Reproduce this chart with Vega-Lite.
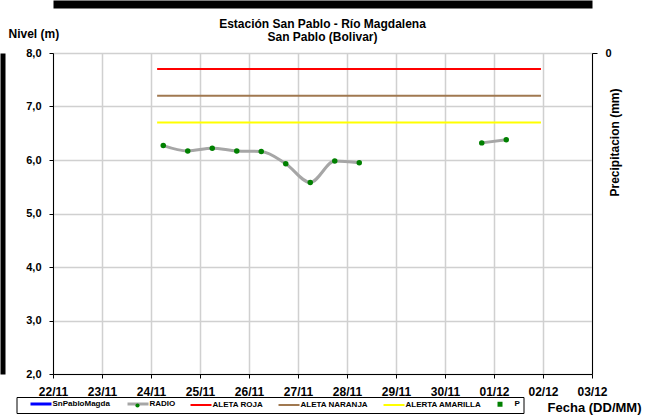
{
  "$schema": "https://vega.github.io/schema/vega-lite/v6.json",
  "width": 539,
  "height": 321,
  "autosize": "none",
  "padding": {"left": 53, "top": 53, "right": 54, "bottom": 44},
  "background": "white",
  "config": {"view": {"stroke": null}, "font": "Liberation Sans"},
  "title": {
    "text": ["Estación San Pablo - Río Magdalena", "San Pablo (Bolivar)"],
    "fontSize": 12, "fontWeight": "bold", "font": "Liberation Sans",
    "anchor": "middle", "offset": 12, "lineHeight": 13, "color": "black", "dy": 52
  },
  "datasets": {
    "radio": [
      {"t": "2023-11-24T06:00:00", "v": 6.27, "seg": "a"},
      {"t": "2023-11-24T18:00:00", "v": 6.17, "seg": "a"},
      {"t": "2023-11-25T06:00:00", "v": 6.22, "seg": "a"},
      {"t": "2023-11-25T18:00:00", "v": 6.17, "seg": "a"},
      {"t": "2023-11-26T06:00:00", "v": 6.16, "seg": "a"},
      {"t": "2023-11-26T18:00:00", "v": 5.93, "seg": "a"},
      {"t": "2023-11-27T06:00:00", "v": 5.58, "seg": "a"},
      {"t": "2023-11-27T18:00:00", "v": 5.98, "seg": "a"},
      {"t": "2023-11-28T06:00:00", "v": 5.95, "seg": "a"},
      {"t": "2023-11-30T18:00:00", "v": 6.32, "seg": "b"},
      {"t": "2023-12-01T06:00:00", "v": 6.38, "seg": "b"}
    ],
    "alertas": [
      {"serie": "ALETA ROJA", "t": "2023-11-24T03:00:00", "v": 7.7},
      {"serie": "ALETA ROJA", "t": "2023-12-01T23:00:00", "v": 7.7},
      {"serie": "ALETA NARANJA", "t": "2023-11-24T03:00:00", "v": 7.2},
      {"serie": "ALETA NARANJA", "t": "2023-12-01T23:00:00", "v": 7.2},
      {"serie": "ALERTA AMARILLA", "t": "2023-11-24T03:00:00", "v": 6.7},
      {"serie": "ALERTA AMARILLA", "t": "2023-12-01T23:00:00", "v": 6.7}
    ],
    "precip": [{"p": 0, "t": "2023-11-28T00:00:00"}]
  },
  "layer": [
    {
      "layer": [
        {
          "data": {"name": "alertas"},
          "mark": {"type": "line", "strokeWidth": 2},
          "encoding": {
            "x": {
              "field": "t", "type": "temporal",
              "scale": {"domain": [{"year": 2023, "month": 11, "date": 22}, {"year": 2023, "month": 12, "date": 3}]},
              "axis": {
                "format": "%d/%m", "tickCount": {"interval": "day", "step": 1},
                "labelFontSize": 12, "labelFontWeight": "bold", "labelColor": "black", "labelFont": "Liberation Sans",
                "labelFlush": false, "labelOverlap": false, "labelPadding": 8,
                "domainColor": "black", "domainWidth": 1, "tickColor": "black", "tickSize": 4,
                "grid": true, "gridColor": "#d0d0d0", "gridWidth": 1.5,
                "title": "Fecha (DD/MM)", "titleFontSize": 13, "titleFontWeight": "bold", "titleColor": "black",
                "titleAlign": "right", "titleX": 588, "titleY": 37, "titleBaseline": "alphabetic"
              }
            },
            "y": {
              "field": "v", "type": "quantitative",
              "scale": {"domain": [2, 8], "nice": false, "zero": false},
              "axis": {
                "values": [2, 2.5, 3, 3.5, 4, 4.5, 5, 5.5, 6, 6.5, 7, 7.5, 8],
                "labelExpr": "datum.value % 1 === 0 ? replace(format(datum.value, '.1f'), '.', ',') : ''",
                "tickOpacity": {"condition": {"test": "datum.value % 1 !== 0", "value": 0}, "value": 1},
                "labelFontSize": 11, "labelFontWeight": "bold", "labelColor": "black", "labelPadding": 8,
                "domainColor": "black", "tickColor": "black", "tickSize": 4,
                "grid": true, "gridColor": "#d0d0d0", "gridWidth": 1.5,
                "title": "Nivel (m)", "titleAngle": 0, "titleAlign": "left", "titleBaseline": "alphabetic",
                "titleX": -45, "titleY": -16, "titleFontSize": 12, "titleFontWeight": "bold", "titleColor": "black"
              }
            },
            "color": {
              "field": "serie", "type": "nominal",
              "scale": {
                "domain": ["SnPabloMagda", "RADIO", "ALETA ROJA", "ALETA NARANJA", "ALERTA AMARILLA", "P"],
                "range": ["#0000ff", "#a6a6a6", "#ff0000", "#a07850", "#ffff00", "#008000"]
              },
              "legend": {
                "orient": "none", "legendX": -36.5, "legendY": 344,
                "direction": "horizontal", "columns": 6, "title": null,
                "strokeColor": "black", "fillColor": "white", "padding": 3,
                "symbolSize": 36, "symbolStrokeWidth": 2, "symbolType": "M-1.33,0H5.67",
                "labelFont": "Liberation Sans", "labelFontSize": 8, "labelFontWeight": "bold", "labelColor": "black",
                "labelOffset": 14, "columnPadding": 11,
                "encode": {
                  "symbols": {
                    "update": {
                      "shape": {"signal": "datum.value === 'P' ? 'M0.67,-0.5h1v1h-1z' : (datum.value === 'SnPabloMagda' ? 'M2.33,0H9.33' : 'M-1.33,0H5.67')"},
                      "fill": {"signal": "datum.value === 'P' ? '#008000' : 'transparent'"},
                      "stroke": {"signal": "datum.value === 'P' ? 'transparent' : scale('color', datum.value)"},
                      "strokeWidth": {"signal": "datum.value === 'SnPabloMagda' || datum.value === 'RADIO' ? 3 : 2"}
                    }
                  },
                  "labels": {
                    "update": {
                      "x": {"signal": "datum.value === 'SnPabloMagda' ? 33 : 22"}
                    }
                  }
                }
              }
            }
          }
        },
        {
          "data": {"name": "radio"},
          "mark": {"type": "line", "strokeWidth": 3, "interpolate": "monotone"},
          "encoding": {
            "x": {"field": "t", "type": "temporal"},
            "y": {"field": "v", "type": "quantitative"},
            "detail": {"field": "seg"},
            "color": {"datum": "RADIO"}
          }
        },
        {
          "data": {"name": "radio"},
          "mark": {"type": "point", "filled": true, "size": 30, "opacity": 1, "strokeWidth": 0},
          "encoding": {
            "x": {"field": "t", "type": "temporal"},
            "y": {"field": "v", "type": "quantitative"},
            "fill": {
              "datum": "RADIO",
              "scale": {"domain": ["RADIO"], "range": ["#008000"]},
              "legend": {
                "orient": "none", "legendX": 82, "legendY": 350, "title": null,
                "labelExpr": "''", "labelFontSize": 4, "padding": 0,
                "symbolType": "circle", "symbolSize": 18, "symbolStrokeWidth": 0
              }
            }
          }
        }
      ]
    },
    {
      "data": {"name": "precip"},
      "mark": {"type": "point", "opacity": 0},
      "encoding": {
        "x": {
          "field": "t", "type": "temporal",
          "axis": {
            "orient": "top", "offset": 49, "domainColor": "black", "domainWidth": 8,
            "labels": false, "ticks": false, "grid": false, "title": null
          }
        },
        "y": {
          "field": "p", "type": "quantitative",
          "scale": {"domain": [0, 10], "reverse": true, "nice": false},
          "axis": {
            "orient": "right", "values": [0], "format": "d", "grid": false,
            "domainColor": "black", "tickColor": "black", "tickSize": 5,
            "labelFontSize": 11, "labelFontWeight": "bold", "labelColor": "black", "labelPadding": 8,
            "title": "Precipitacion (mm)", "titleAngle": 270, "titleFontSize": 12, "titleFontWeight": "bold",
            "titleColor": "black", "titleX": 22, "titleY": 89, "titleBaseline": "middle"
          }
        }
      }
    },
    {
      "data": {"name": "precip"},
      "mark": {"type": "point", "opacity": 0},
      "encoding": {
        "y": {
          "field": "p", "type": "quantitative",
          "scale": {"domain": [0, 1]},
          "axis": {
            "orient": "left", "offset": 50.5, "domainColor": "black", "domainWidth": 5,
            "labels": false, "ticks": false, "grid": false, "title": null
          }
        }
      }
    }
  ],
  "resolve": {"scale": {"y": "independent"}, "axis": {"x": "independent"}}
}
